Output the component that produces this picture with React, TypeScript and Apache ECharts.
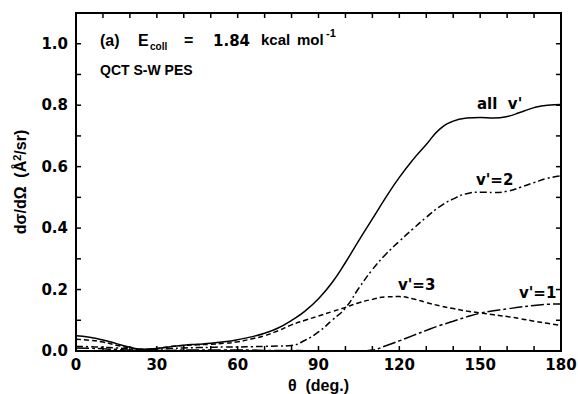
import React, { useEffect, useRef } from "react";
import * as echarts from "echarts";

const theta = [0, 5, 10, 15, 20, 25, 30, 35, 40, 45, 50, 55, 60, 65, 70, 75, 80, 85, 90, 95, 100, 105, 110, 115, 120, 125, 130, 135, 140, 145, 150, 155, 160, 165, 170, 175, 180];

const allV = [0.05, 0.045, 0.036, 0.024, 0.012, 0.006, 0.008, 0.014, 0.019, 0.022, 0.025, 0.03, 0.037, 0.046, 0.058, 0.075, 0.1, 0.13, 0.17, 0.222, 0.288, 0.36, 0.43, 0.5, 0.565, 0.622, 0.672, 0.722, 0.748, 0.758, 0.76, 0.758, 0.763, 0.777, 0.792, 0.8, 0.802];

const v2 = [0.015, 0.014, 0.012, 0.01, 0.007, 0.005, 0.006, 0.008, 0.01, 0.011, 0.012, 0.013, 0.013, 0.014, 0.015, 0.016, 0.018, 0.035, 0.062, 0.1, 0.14, 0.205, 0.265, 0.315, 0.357, 0.397, 0.435, 0.47, 0.495, 0.512, 0.517, 0.516, 0.52, 0.533, 0.548, 0.562, 0.57];

const v3 = [0.038, 0.035, 0.029, 0.019, 0.01, 0.005, 0.008, 0.014, 0.018, 0.02, 0.022, 0.025, 0.03, 0.039, 0.05, 0.066, 0.085, 0.1, 0.114, 0.128, 0.142, 0.157, 0.168, 0.176, 0.177, 0.17, 0.158, 0.147, 0.138, 0.13, 0.124, 0.118, 0.112, 0.105, 0.097, 0.09, 0.083];

const v1 = [0.01, 0.009, 0.007, 0.005, 0.003, 0.002, 0.002, 0.002, 0.003, 0.003, 0.003, 0.003, 0.003, 0.003, 0.002, 0.002, 0.002, 0.001, 0.001, 0.0, 0.0, 0.0, 0.003, 0.017, 0.033, 0.05, 0.067, 0.083, 0.097, 0.111, 0.123, 0.131, 0.137, 0.143, 0.148, 0.152, 0.153];

const xTicks = [0, 10, 20, 30, 40, 50, 60, 70, 80, 90, 100, 110, 120, 130, 140, 150, 160, 170, 180];
const yTicks = [0, 0.1, 0.2, 0.3, 0.4, 0.5, 0.6, 0.7, 0.8, 0.9, 1.0, 1.1];
const X_MIN = 0;
const X_MAX = 180;
const Y_MIN = 0;
const Y_MAX = 1.1;

const FONT = "'Liberation Sans', Arial, sans-serif";
const DV = "'DejaVu Sans', sans-serif";

function pairs(ys: number[]) {
  return theta.map((t, i) => [t, ys[i]]);
}

export default function App() {
  const ref = useRef<HTMLDivElement>(null);
  useEffect(() => {
    document.body.style.margin = "0";
    const chart = echarts.init(ref.current!, null, { renderer: "svg" });
    const lineBase = { type: "line", smooth: true, showSymbol: false, symbol: "none" };
    const t = (text: string, left: number, top: number, font: string) => ({
      type: "text",
      left,
      top,
      style: { text, font, fill: "#000" },
    });
    const texts = [
      t("(a)", 100, 32, `bold 16px ${FONT}`),
      t("E", 138, 32, `bold 16px ${FONT}`),
      t("coll", 150, 41, `bold 10px ${FONT}`),
      t("=", 184, 32, `bold 16px ${FONT}`),
      t("1.84", 213, 33, `bold 15px ${DV}`),
      t("kcal", 261, 32, `bold 15px ${FONT}`),
      t("mol", 297, 32, `bold 15px ${FONT}`),
      t("-1", 326, 27, `bold 11px ${FONT}`),
      t("QCT S-W PES", 100, 63, `bold 14px ${FONT}`),
      t("all  v'", 477, 96, `bold 15px ${DV}`),
      t("v'=2", 476, 172, `bold 15px ${DV}`),
      t("v'=3", 398, 277, `bold 15px ${DV}`),
      t("v'=1", 519, 285, `bold 15px ${DV}`),
    ];
    chart.setOption({
      animation: false,
      grid: { left: 76, right: 17, top: 13, bottom: 43, outerBoundsMode: "none" },
      xAxis: {
        type: "value",
        min: X_MIN,
        max: X_MAX,
        interval: 10,
        position: "bottom",
        name: "θ  (deg.)",
        nameLocation: "middle",
        nameGap: 26,
        nameTextStyle: { fontFamily: FONT, fontWeight: "bold", fontSize: 16, color: "#000" },
        axisLine: { show: true, onZero: false, lineStyle: { color: "black", width: 2 } },
        axisTick: { show: false },
        splitLine: { show: false },
        axisLabel: {
          fontFamily: DV,
          fontWeight: "bold",
          fontSize: 15,
          color: "#000",
          margin: 6,
          formatter: (v: number) => (Math.round(v) % 30 === 0 ? String(Math.round(v)) : ""),
        },
      },
      yAxis: {
        type: "value",
        min: Y_MIN,
        max: Y_MAX,
        interval: 0.1,
        position: "left",
        name: "dσ/dΩ  (Å{sup|2}/sr)",
        nameLocation: "middle",
        nameGap: 46,
        nameRotate: 90,
        nameTextStyle: {
          fontFamily: FONT,
          fontWeight: "bold",
          fontSize: 16,
          color: "#000",
          rich: { sup: { fontFamily: FONT, fontWeight: "bold", fontSize: 11, color: "#000", verticalAlign: "top", padding: [0, 0, 8, 0] } },
        },
        axisLine: { show: true, onZero: false, lineStyle: { color: "black", width: 2 } },
        axisTick: { show: false },
        splitLine: { show: false },
        axisLabel: {
          fontFamily: DV,
          fontWeight: "bold",
          fontSize: 15,
          color: "#000",
          margin: 8,
          formatter: (v: number) => (Math.round(v * 10) % 2 === 0 ? v.toFixed(1) : ""),
        },
      },
      series: [
        { ...lineBase, name: "all v'", data: pairs(allV), lineStyle: { color: "#000", width: 1.5, type: "solid" } },
        { ...lineBase, name: "v'=2", data: pairs(v2), lineStyle: { color: "#000", width: 1.5, type: [7, 3, 2, 3] } },
        { ...lineBase, name: "v'=3", data: pairs(v3), lineStyle: { color: "#000", width: 1.5, type: [5, 3] } },
        { ...lineBase, name: "v'=1", data: pairs(v1), lineStyle: { color: "#000", width: 1.5, type: [13, 3, 3, 3] } },
      ],
      graphic: texts,
    });

    // Frame and inward ticks, placed through the chart's own scales.
    const px = (x: number, y: number) => chart.convertToPixel({ gridIndex: 0 }, [x, y]) as number[];
    const tl = px(X_MIN, Y_MAX);
    const br = px(X_MAX, Y_MIN);
    const TL = 5;
    const frame: any[] = [
      {
        type: "polyline",
        z: 50,
        silent: true,
        shape: { points: [[tl[0], br[1]], [tl[0], tl[1]], [br[0], tl[1]], [br[0], br[1]], [tl[0], br[1]]] },
        style: { stroke: "#000", lineWidth: 2, fill: null },
      },
    ];
    xTicks.forEach((v) => {
      const x = px(v, Y_MIN)[0];
      frame.push({ type: "line", z: 50, silent: true, shape: { x1: x, y1: br[1], x2: x, y2: br[1] - TL }, style: { stroke: "#000", lineWidth: 1.5 } });
      frame.push({ type: "line", z: 50, silent: true, shape: { x1: x, y1: tl[1], x2: x, y2: tl[1] + TL }, style: { stroke: "#000", lineWidth: 1.5 } });
    });
    yTicks.forEach((v) => {
      const y = px(X_MIN, v)[1];
      frame.push({ type: "line", z: 50, silent: true, shape: { x1: tl[0], y1: y, x2: tl[0] + TL, y2: y }, style: { stroke: "#000", lineWidth: 1.5 } });
      frame.push({ type: "line", z: 50, silent: true, shape: { x1: br[0], y1: y, x2: br[0] - TL, y2: y }, style: { stroke: "#000", lineWidth: 1.5 } });
    });
    chart.setOption({ graphic: [...texts, ...frame] }, { replaceMerge: ["graphic"] });

    return () => chart.dispose();
  }, []);
  return <div ref={ref} style={{ width: 578, height: 394 }} />;
}
